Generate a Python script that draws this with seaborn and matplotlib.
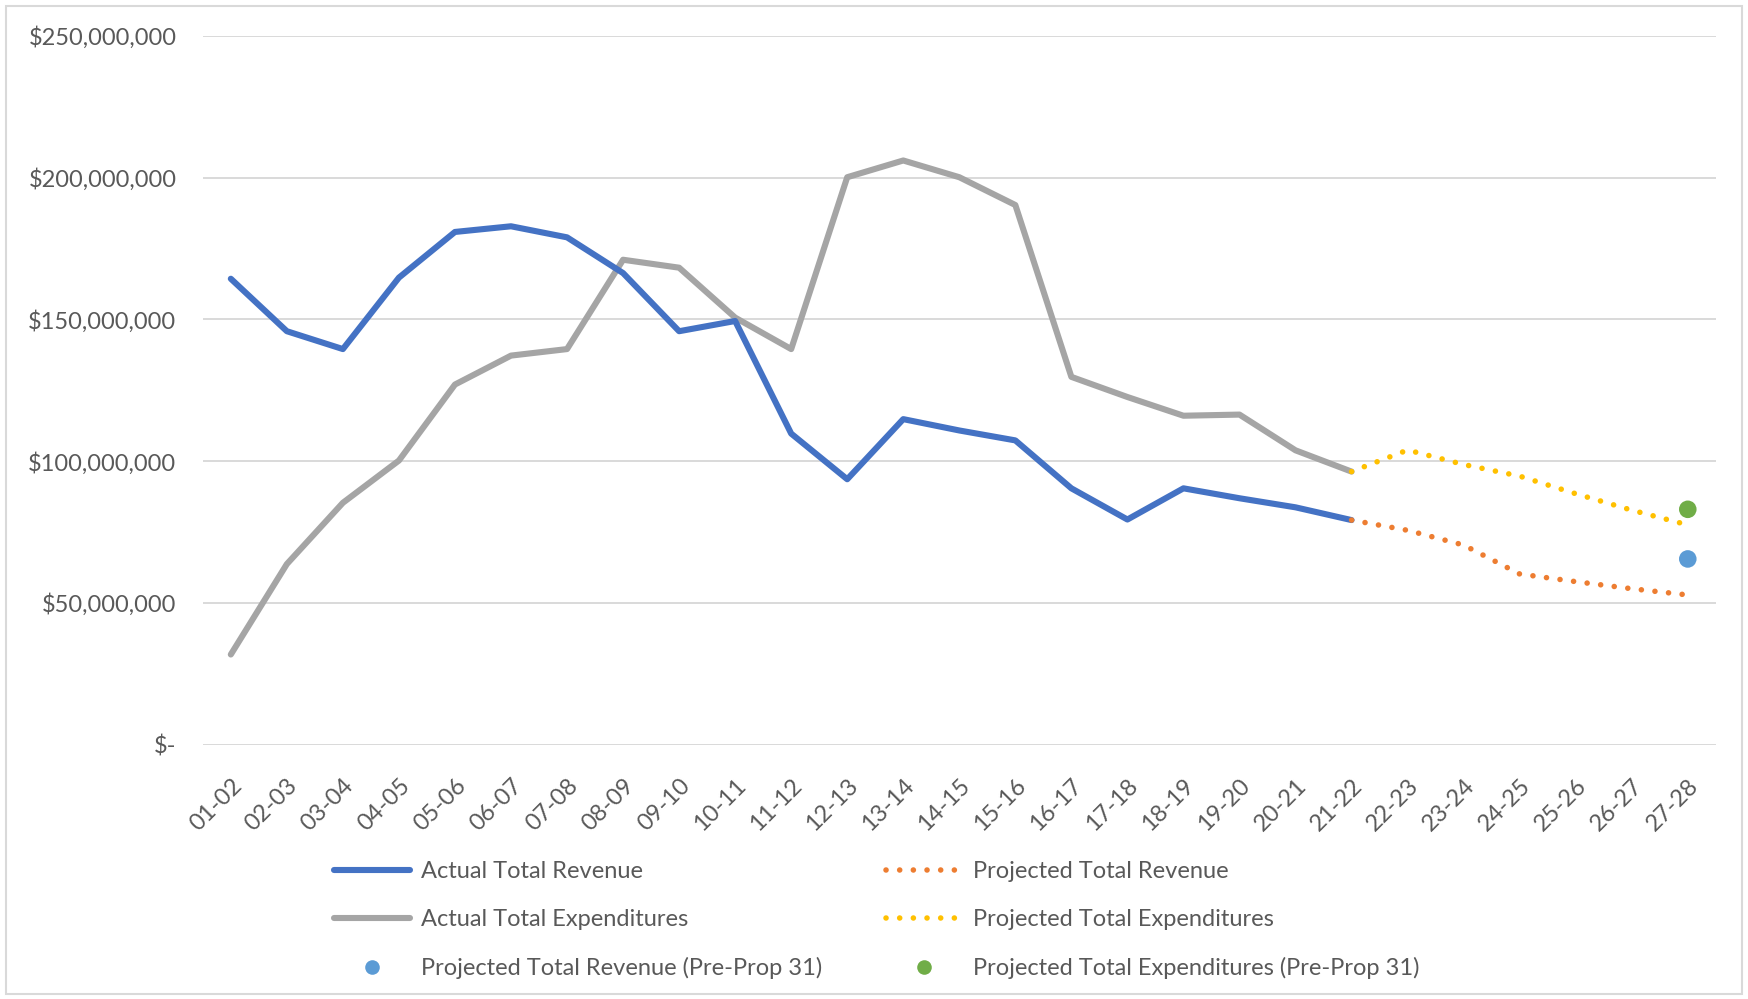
import matplotlib
matplotlib.use("Agg")
import matplotlib.pyplot as plt
import matplotlib.ticker as mticker
from matplotlib.lines import Line2D
from matplotlib.patches import Rectangle
import seaborn as sns
import pandas as pd
import numpy as np

sns.set_theme(style="white")
plt.rcParams["font.family"] = ["Lato", "DejaVu Sans"]

# ---------------- data ----------------
years = ["01-02", "02-03", "03-04", "04-05", "05-06", "06-07", "07-08", "08-09",
         "09-10", "10-11", "11-12", "12-13", "13-14", "14-15", "15-16", "16-17",
         "17-18", "18-19", "19-20", "20-21", "21-22", "22-23", "23-24", "24-25",
         "25-26", "26-27", "27-28"]

actual_revenue = [164.3, 145.8, 139.5, 164.7, 180.8, 182.8, 178.9, 166.3, 145.8,
                  149.4, 109.7, 93.6, 114.8, 110.8, 107.3, 90.4, 79.4, 90.4, 86.9,
                  83.7, 79.2]
actual_expend = [31.8, 63.7, 85.3, 100.2, 127.0, 137.2, 139.5, 171.0, 168.2, 150.6,
                 139.5, 200.1, 206.0, 200.1, 190.3, 129.7, 122.6, 116.0, 116.4,
                 103.8, 96.3]
proj_revenue = [79.2, 75.6, 70.4, 60.2, 57.5, 55.0, 52.8]
proj_expend = [96.3, 103.9, 98.8, 94.7, 88.5, 82.7, 77.5]
pre_prop_revenue = [65.5]
pre_prop_expend = [83.0]

# ---------------- frames ----------------
n_act = len(actual_revenue)
df_act = pd.DataFrame({"year": years[:n_act],
                       "rev": np.array(actual_revenue) * 1e6,
                       "exp": np.array(actual_expend) * 1e6})
df_proj = pd.DataFrame({"year": years[n_act - 1:],
                        "rev": np.array(proj_revenue) * 1e6,
                        "exp": np.array(proj_expend) * 1e6})
df_pre = pd.DataFrame({"year": [years[-1]],
                       "rev": np.array(pre_prop_revenue) * 1e6,
                       "exp": np.array(pre_prop_expend) * 1e6})

C_BLUE = "#4472C4"
C_GRAY = "#A5A5A5"
C_ORANGE = "#ED7D31"
C_YELLOW = "#FFC000"
C_LBLUE = "#5B9BD5"
C_GREEN = "#70AD47"
TXT = "#595959"
GRID = "#D9D9D9"
FS = 17

W, H = 1748, 999
fig = plt.figure(figsize=(W / 100, H / 100), dpi=100)
ax = fig.add_axes([202.8 / W, 1 - 744.7 / H, (1715.8 - 202.8) / W, (744.7 - 35.7) / H])

xpos = {y: i for i, y in enumerate(years)}
for d in (df_act, df_proj, df_pre):
    d["x"] = d["year"].map(xpos)

solid_lw = 4.4
dot_lw = 4.0
dot_style = (0, (0.01, 2.45))

sns.lineplot(data=df_act, x="x", y="exp", ax=ax, color=C_GRAY, lw=solid_lw,
             solid_capstyle="round", solid_joinstyle="round", zorder=3)
sns.lineplot(data=df_act, x="x", y="rev", ax=ax, color=C_BLUE, lw=solid_lw,
             solid_capstyle="round", solid_joinstyle="round", zorder=4)
sns.lineplot(data=df_proj, x="x", y="exp", ax=ax, color=C_YELLOW, lw=dot_lw, zorder=5)
sns.lineplot(data=df_proj, x="x", y="rev", ax=ax, color=C_ORANGE, lw=dot_lw, zorder=5)
for ln in ax.lines[2:4]:
    ln.set_linestyle(dot_style)
    ln.set_dash_capstyle("round")
sns.scatterplot(data=df_pre, x="x", y="rev", ax=ax, color=C_LBLUE, s=160,
                edgecolor="none", zorder=6)
sns.scatterplot(data=df_pre, x="x", y="exp", ax=ax, color=C_GREEN, s=160,
                edgecolor="none", zorder=6)

ax.set_xlim(-0.5, len(years) - 0.5)
ax.set_ylim(0, 250e6)
ax.set_yticks(np.arange(0, 250e6 + 1, 50e6))


def money(v, pos):
    if v == 0:
        return "$-"
    return "${:,.0f}".format(v)


ax.yaxis.set_major_formatter(mticker.FuncFormatter(money))
ax.set_xticks(range(len(years)))
ax.set_xticklabels(years, rotation=45, ha="right", rotation_mode="anchor")
ax.tick_params(axis="x", length=0, pad=22, labelsize=FS, labelcolor=TXT)
ax.tick_params(axis="y", length=0, pad=19, labelsize=FS, labelcolor=TXT)
ax.set_xlabel("")
ax.set_ylabel("")
ax.grid(axis="y", color=GRID, lw=1.4)
ax.grid(axis="x", visible=False)
ax.set_axisbelow(True)
for s in ax.spines.values():
    s.set_visible(False)
if ax.get_legend():
    ax.get_legend().remove()

# ---------------- legend ----------------
h_ar = Line2D([], [], color=C_BLUE, lw=solid_lw)
h_ae = Line2D([], [], color=C_GRAY, lw=solid_lw)
h_pp1 = Line2D([], [], color=C_LBLUE, marker="o", ls="none", markersize=10.5, markeredgewidth=0)
h_pr = Line2D([], [], color=C_ORANGE, lw=dot_lw, ls=dot_style, dash_capstyle="round")
h_pe = Line2D([], [], color=C_YELLOW, lw=dot_lw, ls=dot_style, dash_capstyle="round")
h_pp2 = Line2D([], [], color=C_GREEN, marker="o", ls="none", markersize=10.5, markeredgewidth=0)

leg_kw = dict(frameon=False, fontsize=FS, labelcolor=TXT, handlelength=3.2,
              handletextpad=0.5, labelspacing=1.15, borderaxespad=0, borderpad=0,
              loc="upper left")
fig.legend([h_ar, h_ae, h_pp1],
           ["Actual Total Revenue", "Actual Total Expenditures",
            "Projected Total Revenue (Pre-Prop 31)"],
           bbox_to_anchor=(334 / W, 1 - 861 / H), **leg_kw)
fig.legend([h_pr, h_pe, h_pp2],
           ["Projected Total Revenue", "Projected Total Expenditures",
            "Projected Total Expenditures (Pre-Prop 31)"],
           bbox_to_anchor=(886 / W, 1 - 861 / H), **leg_kw)

# chart-area border
fig.patches.append(Rectangle((6 / W, 5 / H), (W - 12) / W, (H - 11) / H,
                             transform=fig.transFigure, fill=False,
                             edgecolor=GRID, lw=1.5))

fig.savefig("out.png", dpi=100, facecolor="white")
